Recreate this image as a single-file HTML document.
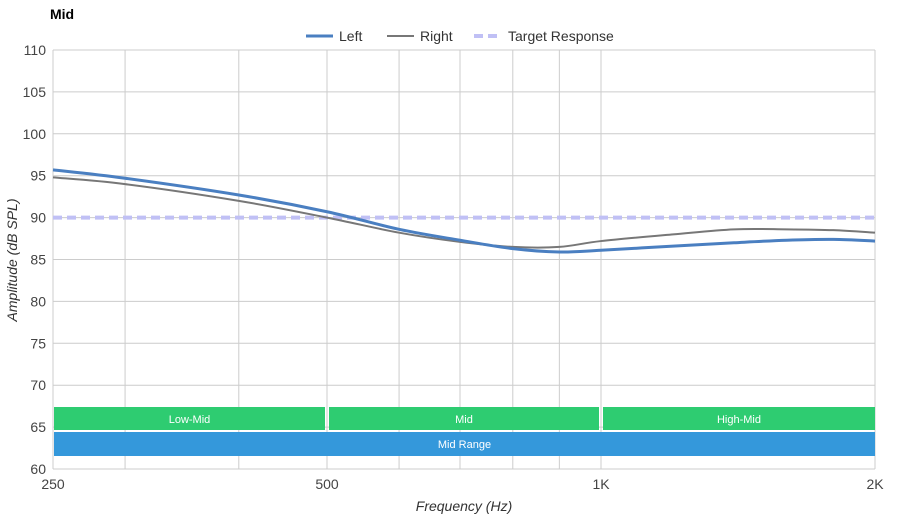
<!DOCTYPE html>
<html><head><meta charset="utf-8"><style>
body{margin:0;background:#fff;font-family:"Liberation Sans",sans-serif}
svg text{font-family:"Liberation Sans",sans-serif}
</style></head><body>
<svg id="c" width="900" height="520">
<text x="50" y="19" font-size="14" font-weight="bold" fill="#000">Mid</text>
<g>
<line x1="306" y1="36" x2="333" y2="36" stroke="#4a7fc1" stroke-width="3"/>
<text x="339" y="41" font-size="14" fill="#333">Left</text>
<line x1="387" y1="36" x2="414" y2="36" stroke="#777" stroke-width="2"/>
<text x="420" y="41" font-size="14" fill="#333">Right</text>
<line x1="474" y1="36" x2="502" y2="36" stroke="#c0c0f5" stroke-width="4" stroke-dasharray="9,5"/>
<text x="508" y="41" font-size="14" fill="#333">Target Response</text>
</g>
<g id="grid"></g>
<g id="bands"></g>
<g id="series"></g>
<text transform="translate(17,260) rotate(-90)" text-anchor="middle" font-size="14" font-style="italic" fill="#333">Amplitude (dB SPL)</text>
<text x="464" y="511" text-anchor="middle" font-size="14" font-style="italic" fill="#333">Frequency (Hz)</text>
</svg>
<script>
const freqs=[250,300,400,500,600,700,800,900,1000,1200,1400,1600,1800,2000];
const leftVals=[95.7,94.7,92.7,90.7,88.6,87.3,86.3,85.9,86.1,86.6,87.0,87.3,87.4,87.2];
const rightVals=[94.8,94.0,92.0,90.0,88.2,87.1,86.5,86.5,87.2,88.0,88.6,88.6,88.5,88.2];
const targetVal=90;
const yTicks=[60,65,70,75,80,85,90,95,100,105,110];
const xGrid=[250,300,400,500,600,700,800,900,1000,2000];
const xTickVals=[250,500,1000,2000];
const xTickLabels=["250","500","1K","2K"];
const bands=[{name:"Low-Mid",from:250,to:500},{name:"Mid",from:500,to:1000},{name:"High-Mid",from:1000,to:2000}];
const outerBand={name:"Mid Range",from:250,to:2000};

const X0=53,X1=875,Y0=469,Y1=50;
const x=f=>X0+Math.log2(f/250)/3*(X1-X0);
const y=v=>Y0-(v-60)/50*(Y0-Y1);
const NS="http://www.w3.org/2000/svg";
function mk(t,a,p){const e=document.createElementNS(NS,t);for(const k in a)e.setAttribute(k,a[k]);p.appendChild(e);return e;}
const grid=document.getElementById('grid');
yTicks.forEach(v=>{
 const l=mk('line',{x1:X0,x2:X1,y1:y(v),y2:y(v),stroke:'#ccc','stroke-width':1},grid);
 
 
 const t=mk('text',{x:46,y:y(v)+5,'text-anchor':'end','font-size':14,fill:'#444'},grid);
 t.textContent=v;
 
 
});
xGrid.forEach(f=>{
 const l=mk('line',{x1:x(f),x2:x(f),y1:Y1,y2:Y0,stroke:'#ccc','stroke-width':1},grid);
 
 
});
xTickVals.forEach((f,i)=>{
 const t=mk('text',{x:x(f),y:489,'text-anchor':'middle','font-size':14,fill:'#444'},grid);
 t.textContent=xTickLabels[i];
 
 
});
const bg=document.getElementById('bands');
bands.forEach((b,i)=>{
 const x0=x(b.from)+(i?2:1),x1=x(b.to)-(i<bands.length-1?2:0);
 const r=mk('rect',{x:x0,y:407,width:x1-x0,height:23,fill:'#2ecc71'},bg);
 
 
 const t=mk('text',{x:(x0+x1)/2,y:423,'text-anchor':'middle','font-size':11,fill:'#fff'},bg);
 t.textContent=b.name;
 
 
});
{const x0=x(outerBand.from)+1,x1=x(outerBand.to);
 const r=mk('rect',{x:x0,y:432,width:x1-x0,height:24,fill:'#3498db'},bg);
 
 
 const t=mk('text',{x:(x0+x1)/2,y:448,'text-anchor':'middle','font-size':11,fill:'#fff'},bg);
 t.textContent=outerBand.name;
 
 }
function smooth(vals){
 const p=freqs.map((f,i)=>[x(f),y(vals[i])]);
 let d='M'+p[0][0]+','+p[0][1];
 for(let i=0;i<p.length-1;i++){
  const p0=p[i-1]||p[i],p1=p[i],p2=p[i+1],p3=p[i+2]||p2;
  const c1=[p1[0]+(p2[0]-p0[0])/6,p1[1]+(p2[1]-p0[1])/6];
  const c2=[p2[0]-(p3[0]-p1[0])/6,p2[1]-(p3[1]-p1[1])/6];
  d+=` C${c1[0]},${c1[1]} ${c2[0]},${c2[1]} ${p2[0]},${p2[1]}`;
 }
 return d;
}
const sg=document.getElementById('series');
const tl=mk('line',{x1:X0,x2:X1,y1:y(targetVal),y2:y(targetVal),stroke:'#c0c0f5','stroke-width':4,'stroke-dasharray':'9,5'},sg);


const rp=mk('path',{d:smooth(rightVals),fill:'none',stroke:'#777','stroke-width':2},sg);


const lp=mk('path',{d:smooth(leftVals),fill:'none',stroke:'#4a7fc1','stroke-width':3},sg);


</script>
</body></html>
